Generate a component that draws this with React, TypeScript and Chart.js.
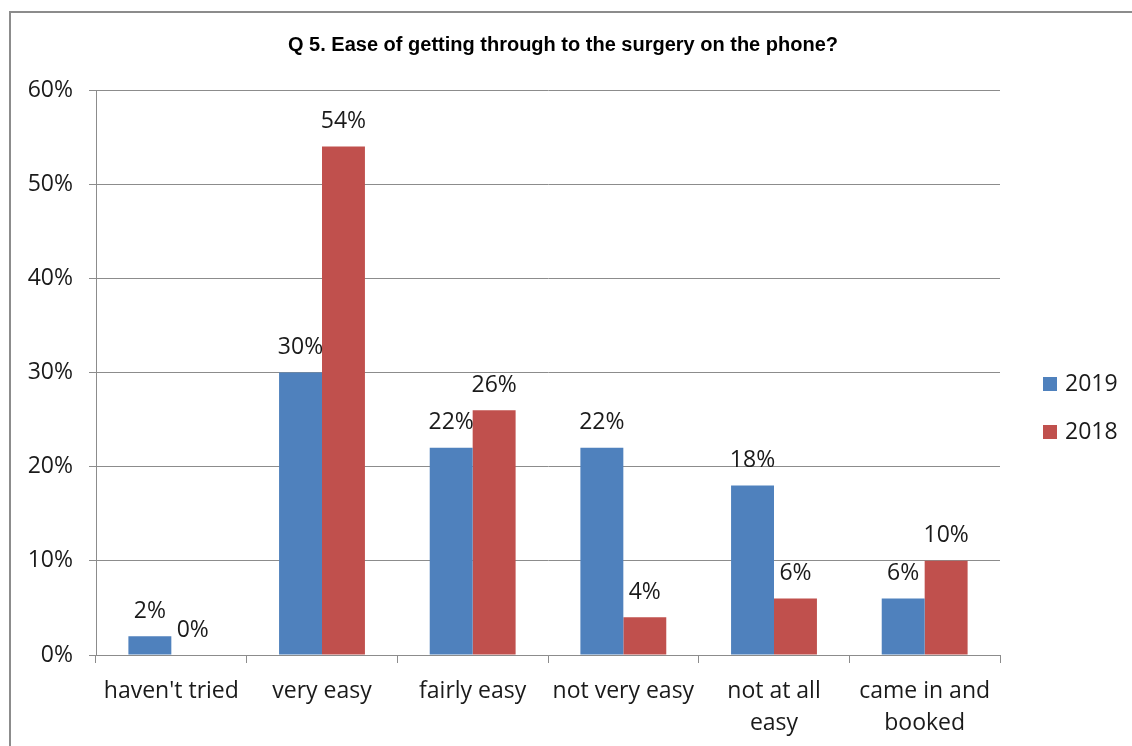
import React, { useEffect, useRef } from "react";
import { Chart, registerables } from "chart.js";

Chart.register(...registerables);

const chartTitle = "Q 5. Ease of getting through to the surgery on the phone?";
const categories: string[][] = [
  ["haven't tried"],
  ["very easy"],
  ["fairly easy"],
  ["not very easy"],
  ["not at all", "easy"],
  ["came in and", "booked"],
];
const seriesNames = ["2019", "2018"];
const values2019 = [2, 30, 22, 22, 18, 6];
const values2018 = [0, 54, 26, 4, 6, 10];
const seriesColors = ["#4F81BD", "#C0504D"];
const yMax = 60;
const yStep = 10;

const FONT = "'Open Sans', 'Liberation Sans', sans-serif";
const TEXT_SIZE = 23;

const dataLabelPlugin = {
  id: "dataLabels",
  afterDatasetsDraw(chart: any) {
    const ctx = chart.ctx;
    ctx.save();
    ctx.font = `${TEXT_SIZE}px ${FONT}`;
    ctx.fillStyle = "#1a1a1a";
    ctx.textAlign = "center";
    ctx.textBaseline = "middle";
    chart.data.datasets.forEach((ds: any, di: number) => {
      const meta = chart.getDatasetMeta(di);
      meta.data.forEach((el: any, i: number) => {
        ctx.fillText(`${ds.data[i]}%`, el.x, el.y - 25);
      });
    });
    ctx.restore();
  },
};

const sideLegendPlugin = {
  id: "sideLegend",
  afterDraw(chart: any) {
    const ctx = chart.ctx;
    const area = chart.chartArea;
    ctx.save();
    ctx.font = `${TEXT_SIZE}px ${FONT}`;
    ctx.textAlign = "left";
    ctx.textBaseline = "middle";
    chart.data.datasets.forEach((ds: any, di: number) => {
      const cy = 384 + di * 48;
      const x = area.right + 43;
      ctx.fillStyle = ds.backgroundColor;
      ctx.fillRect(x, cy - 7, 14, 14);
      ctx.fillStyle = "#1a1a1a";
      ctx.fillText(ds.label, x + 22, cy);
    });
    ctx.restore();
  },
};

export default function App() {
  const canvasRef = useRef<HTMLCanvasElement | null>(null);

  useEffect(() => {
    if (!canvasRef.current) return;
    const chart = new Chart(canvasRef.current, {
      type: "bar",
      data: {
        labels: categories,
        datasets: [
          {
            label: seriesNames[0],
            data: values2019,
            backgroundColor: seriesColors[0],
            categoryPercentage: 0.57,
            barPercentage: 1,
          },
          {
            label: seriesNames[1],
            data: values2018,
            backgroundColor: seriesColors[1],
            categoryPercentage: 0.57,
            barPercentage: 1,
          },
        ],
      },
      options: {
        responsive: false,
        animation: false,
        layout: { padding: { left: 0, right: 6, top: 0, bottom: 0 } },
        plugins: {
          legend: { display: false },
          tooltip: { enabled: false },
          title: {
            display: true,
            text: chartTitle,
            color: "#000",
            font: { family: "'Liberation Sans', Arial, sans-serif", size: 20, weight: "bold", lineHeight: 1.2 },
            padding: { top: 33, bottom: 33 },
          },
        },
        scales: {
          x: {
            grid: {
              offset: true,
              drawOnChartArea: false,
              drawTicks: true,
              tickLength: 8,
              color: "#8c8c8c",
            },
            border: { color: "#8c8c8c", width: 1 },
            ticks: {
              color: "#1a1a1a",
              font: { family: FONT, size: TEXT_SIZE, lineHeight: 1.4 },
              padding: 12,
              maxRotation: 0,
              autoSkip: false,
            },
            afterFit(scale: any) {
              scale.height = 91;
            },
          },
          y: {
            min: 0,
            max: yMax,
            ticks: {
              stepSize: yStep,
              color: "#1a1a1a",
              font: { family: FONT, size: TEXT_SIZE },
              padding: 16,
              callback: (v: any) => `${v}%`,
            },
            grid: {
              color: "#8c8c8c",
              tickLength: 7,
              drawTicks: true,
            },
            border: { color: "#8c8c8c", width: 1 },
            afterFit(scale: any) {
              scale.width = 96;
            },
          },
          legendSpace: {
            type: "linear",
            position: "right",
            display: true,
            grid: { display: false, drawTicks: false },
            border: { display: false },
            ticks: { display: false },
            afterFit(scale: any) {
              scale.width = 126;
            },
          },
        },
      },
      plugins: [dataLabelPlugin, sideLegendPlugin],
    } as any);
    return () => chart.destroy();
  }, []);

  return (
    <div
      style={{
        position: "fixed",
        left: 0,
        top: 0,
        width: 1132,
        height: 746,
        overflow: "hidden",
        background: "#ffffff",
      }}
    >
      <div
        style={{
          position: "absolute",
          left: 9,
          top: 11,
          width: 1200,
          height: 800,
          borderTop: "2px solid #8c8c8c",
          borderLeft: "2px solid #8c8c8c",
        }}
      />
      <canvas
        ref={canvasRef}
        width={1132}
        height={746}
        style={{ position: "absolute", left: 0, top: 0, width: 1132, height: 746 }}
      />
    </div>
  );
}
